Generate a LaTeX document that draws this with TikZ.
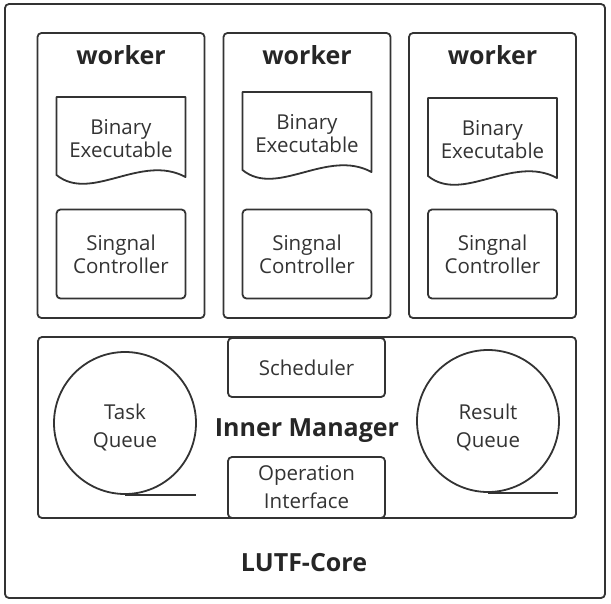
\documentclass[tikz,border=0pt]{standalone}
\usepackage{fontspec}
\setmainfont{Open Sans}
\begin{document}
\begin{tikzpicture}[x=1pt,y=-1pt,
  line width=1.8pt,
  ln/.style={draw=black!80},
  box/.style={ln, rounded corners=4pt, fill=white},
  body/.style={font=\fontsize{20.5}{23}\selectfont, text=black!80, align=center},
  bodyw/.style={font=\fontsize{20.5}{28}\selectfont, text=black!80, align=center},
  ttl/.style={font=\fontsize{25}{28}\selectfont\bfseries, text=black!85, align=center}]
\useasboundingbox (0,0) rectangle (611,603);
\node[box, minimum width=600pt, minimum height=594pt] (core) at (305,301) {};
\node[ttl] (coret) at (304,563) {LUTF-Core};
% workers
\foreach \i/\cx/\dt in {1/121/97, 2/307/92, 3/492.5/98}{
  \node[box, minimum width=167pt, minimum height=285pt] (w\i) at (\cx,175.5) {};
  \node[ttl] (wt\i) at (\cx,55) {worker};
  \draw[ln, line join=round] ({\cx-64.5},\dt) -- ({\cx+64.5},\dt) -- ({\cx+64.5},\dt+80)
     .. controls ({\cx+20},\dt+56) and ({\cx-30},\dt+106) .. ({\cx-64.5},\dt+78) -- cycle;
  \node[body] (be\i) at (\cx,\dt+42) {Binary\\Executable};
  \node[box, minimum width=129pt, minimum height=89pt, body] (sc\i) at (\cx,254) {Singnal\\Controller};
}
% inner manager
\node[box, minimum width=538pt, minimum height=181pt] (im) at (307,427.5) {};
\node[ttl] (imt) at (307,431) {Inner Manager};
\node[box, minimum width=157pt, minimum height=59pt, body] (sch) at (306.5,367.5) {Scheduler};
\node[box, minimum width=157pt, minimum height=61pt, bodyw, inner sep=0pt] (oi) at (306.5,487.5) {Operation\\Interface};
\node[ln, circle, minimum size=142pt, inner sep=0pt] (tq) at (125,423) {};
\node[bodyw] (tqt) at (125,427) {Task\\Queue};
\draw[ln] (tq.south) -- ++(71,0) coordinate (tqe);
\node[ln, circle, minimum size=142pt, inner sep=0pt] (rq) at (488,421) {};
\node[bodyw] (rqt) at (488,427) {Result\\Queue};
\draw[ln] (rq.south) -- ++(70,0) coordinate (rqe);
\end{tikzpicture}
\end{document}
